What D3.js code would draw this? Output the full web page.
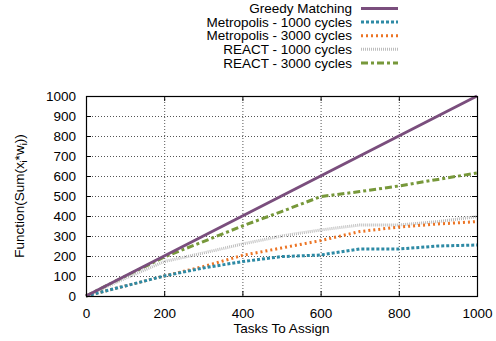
<!DOCTYPE html>
<html>
<head>
<meta charset="utf-8">
<script src="https://cdn.jsdelivr.net/npm/d3@7"></script>
<style>
  body { margin: 0; background: #fff; }
  svg text { font-family: "Liberation Sans", Arial, sans-serif; fill: #000; }
</style>
</head>
<body>
<div id="chart"></div>
<script>
// tasks to assign (x)
const tasks = [0, 100, 200, 300, 400, 500, 600, 700, 800, 900, 1000];

// series values
const greedy = [0, 100, 200, 300, 400, 500, 600, 700, 800, 900, 1000];
const metro1000 = [0, 50, 100, 140, 172, 197, 205, 235, 235, 250, 255];
const metro3000 = [0, 50, 100, 147, 203, 240, 277, 322, 345, 360, 372];
const react1000 = [0, 88, 172, 215, 260, 300, 330, 355, 355, 372, 397];
const react3000 = [0, 98, 195, 272, 350, 422, 497, 522, 550, 583, 615];

const xTicks = [0, 200, 400, 600, 800, 1000];
const yTicks = [0, 100, 200, 300, 400, 500, 600, 700, 800, 900, 1000];

const series = [
  { name: "Greedy Matching", values: greedy, color: "#7a4e7d", dash: null, width: 3 },
  { name: "Metropolis - 1000 cycles", values: metro1000, color: "#2d8aa5", dash: "3,2", width: 3 },
  { name: "Metropolis - 3000 cycles", values: metro3000, color: "#ec7424", dash: "2,3", width: 3 },
  { name: "REACT - 1000 cycles", values: react1000, color: "#bdbdbd", dash: "1,1", width: 3 },
  { name: "REACT - 3000 cycles", values: react3000, color: "#77983a", dash: "7,3,3,3", width: 3 }
];

const fontSize = "13.5px";
const width = 496, height = 341;
const margin = { top: 96, right: 19, bottom: 45, left: 86 };
const innerW = width - margin.left - margin.right;
const innerH = height - margin.top - margin.bottom;

const svg = d3.select("#chart").append("svg")
  .attr("width", width)
  .attr("height", height);

const bounds = svg.append("g")
  .attr("transform", `translate(${margin.left},${margin.top})`);

const xScale = d3.scaleLinear().domain([0, 1000]).range([0, innerW]);
const yScale = d3.scaleLinear().domain([0, 1000]).range([innerH, 0]);

// grid
bounds.append("g")
  .selectAll("line")
  .data(xTicks.slice(1, -1))
  .join("line")
    .attr("x1", d => xScale(d) + 0.5).attr("x2", d => xScale(d) + 0.5)
    .attr("y1", 0).attr("y2", innerH)
    .attr("stroke", "#555").attr("stroke-width", 1).attr("stroke-dasharray", "1,2");

bounds.append("g")
  .selectAll("line")
  .data(yTicks.slice(1, -1))
  .join("line")
    .attr("y1", d => Math.round(yScale(d)) + 0.5).attr("y2", d => Math.round(yScale(d)) + 0.5)
    .attr("x1", 0).attr("x2", innerW)
    .attr("stroke", "#555").attr("stroke-width", 1).attr("stroke-dasharray", "1,2");

// axes (ticks inward, mirrored like gnuplot)
const xAxis = bounds.append("g")
  .attr("transform", `translate(0,${innerH})`)
  .call(d3.axisBottom(xScale).tickValues(xTicks).tickSize(-5).tickPadding(12).tickFormat(d3.format("d")));
const xAxisTop = bounds.append("g")
  .call(d3.axisTop(xScale).tickValues(xTicks).tickSize(-5).tickFormat(() => ""));
const yAxis = bounds.append("g")
  .call(d3.axisLeft(yScale).tickValues(yTicks).tickSize(-5).tickPadding(10).tickFormat(d3.format("d")));
const yAxisRight = bounds.append("g")
  .attr("transform", `translate(${innerW},0)`)
  .call(d3.axisRight(yScale).tickValues(yTicks).tickSize(-5).tickFormat(() => ""));

[xAxis, xAxisTop, yAxis, yAxisRight].forEach(a => {
  a.select(".domain").remove();
  a.selectAll("line").attr("stroke", "#000");
  a.selectAll("text").style("font-size", fontSize);
});

// lines
const lineGenerator = d3.line()
  .x((d, i) => xScale(tasks[i]))
  .y(d => yScale(d));

const drawOrder = [4, 3, 2, 1, 0];
drawOrder.forEach(k => {
  const s = series[k];
  bounds.append("path")
    .attr("d", lineGenerator(s.values))
    .attr("fill", "none")
    .attr("stroke", s.color)
    .attr("stroke-width", s.width)
    .attr("stroke-dasharray", s.dash);
});

// border
bounds.append("rect")
  .attr("x", 0.5).attr("y", 0.5)
  .attr("width", innerW).attr("height", innerH)
  .attr("fill", "none").attr("stroke", "#000").attr("stroke-width", 1.2);

// axis titles
svg.append("text")
  .attr("x", margin.left + innerW / 2)
  .attr("y", 333)
  .attr("text-anchor", "middle")
  .style("font-size", fontSize)
  .text("Tasks To Assign");

const yLabel = svg.append("text")
  .attr("transform", `translate(24,${margin.top + innerH / 2}) rotate(-90)`)
  .attr("text-anchor", "middle")
  .style("font-size", fontSize);
yLabel.append("tspan").text("Function(Sum(x");
yLabel.append("tspan").attr("dy", 3).style("font-size", "9px").text("i");
yLabel.append("tspan").attr("dy", -3).text("*w");
yLabel.append("tspan").attr("dy", 3).style("font-size", "9px").text("i");
yLabel.append("tspan").attr("dy", -3).text("))");

// legend
const legend = svg.append("g");
series.forEach((s, i) => {
  const y = 8.5 + i * 13.6;
  legend.append("text")
    .attr("x", 352).attr("y", y)
    .attr("dy", "0.35em")
    .attr("text-anchor", "end")
    .style("font-size", fontSize)
    .text(s.name);
  legend.append("line")
    .attr("x1", 361).attr("x2", 398)
    .attr("y1", y).attr("y2", y)
    .attr("stroke", s.color)
    .attr("stroke-width", s.width)
    .attr("stroke-dasharray", s.dash);
});
</script>
</body>
</html>
